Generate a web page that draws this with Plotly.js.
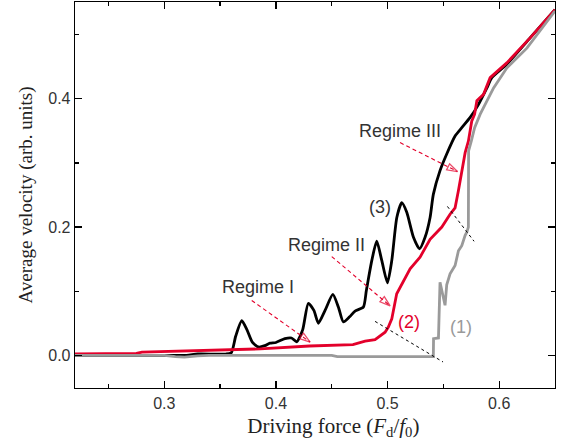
<!DOCTYPE html>
<html>
<head>
<meta charset="utf-8">
<script src="https://cdn.plot.ly/plotly-3.0.1.min.js"></script>
<style>html,body{margin:0;padding:0;background:#fff;}#chart{width:565px;height:446px;}</style>
</head>
<body>
<div id="chart"></div>
<script>
// Curve (1): gray
const grayX = [0.22, 0.30, 0.31, 0.318, 0.33, 0.34, 0.45, 0.455, 0.541, 0.5412, 0.5456, 0.547, 0.5515, 0.553, 0.556, 0.5605, 0.5635, 0.5665, 0.5695, 0.571, 0.5724, 0.5726, 0.575, 0.578, 0.583, 0.589, 0.595, 0.6068, 0.6248, 0.65];
const grayY = [0.000, 0.000, -0.002, -0.003, -0.001, 0.000, 0.000, -0.002, -0.002, 0.026, 0.027, 0.114, 0.078, 0.110, 0.127, 0.140, 0.163, 0.171, 0.187, 0.192, 0.200, 0.319, 0.334, 0.355, 0.376, 0.397, 0.417, 0.448, 0.479, 0.537];
// Curve (2): red
const redX = [0.22, 0.25, 0.275, 0.28, 0.33, 0.386, 0.43, 0.469, 0.4799, 0.4888, 0.4978, 0.5007, 0.5038, 0.5082, 0.5202, 0.5291, 0.5381, 0.5486, 0.556, 0.5605, 0.5635, 0.5665, 0.5695, 0.5724, 0.5754, 0.578, 0.580, 0.586, 0.5919, 0.6068, 0.6277, 0.65];
const redY = [0.002, 0.003, 0.003, 0.005, 0.007, 0.010, 0.0145, 0.0166, 0.022, 0.0244, 0.036, 0.044, 0.057, 0.096, 0.135, 0.153, 0.181, 0.200, 0.220, 0.230, 0.257, 0.288, 0.316, 0.334, 0.365, 0.376, 0.397, 0.407, 0.433, 0.456, 0.495, 0.539];
// Curve (3): black
const blackX = [0.22, 0.30, 0.32, 0.33, 0.355, 0.360, 0.364, 0.3694, 0.374, 0.379, 0.3843, 0.39, 0.3947, 0.40, 0.408, 0.414, 0.4186, 0.424, 0.429, 0.434, 0.438, 0.444, 0.451, 0.456, 0.4604, 0.466, 0.4709, 0.4783, 0.481, 0.4859, 0.4903, 0.4948, 0.4999, 0.5038, 0.5083, 0.5128, 0.5172, 0.5232, 0.5286, 0.5336, 0.5381, 0.541, 0.547, 0.553, 0.5605, 0.5665, 0.574, 0.5814, 0.589, 0.5934, 0.6068, 0.6277, 0.65];
const blackY = [0.000, 0.000, 0.000, 0.002, 0.002, 0.004, 0.030, 0.054, 0.040, 0.020, 0.013, 0.015, 0.019, 0.020, 0.026, 0.027, 0.021, 0.040, 0.081, 0.070, 0.050, 0.070, 0.095, 0.075, 0.052, 0.060, 0.069, 0.075, 0.101, 0.148, 0.178, 0.148, 0.113, 0.148, 0.215, 0.238, 0.223, 0.184, 0.166, 0.184, 0.215, 0.251, 0.288, 0.314, 0.342, 0.355, 0.371, 0.391, 0.417, 0.433, 0.454, 0.495, 0.539];

// Text labels
const labelText = ["Regime I", "Regime II", "Regime III", "(3)", "(2)", "(1)"];
const labelX = [0.3835, 0.4449, 0.5112, 0.4933, 0.5193, 0.5659];
const labelY = [0.1058, 0.1726, 0.350, 0.2317, 0.0513, 0.0435];
const labelColor = ["#333333", "#333333", "#333333", "#333333", "#e3002b", "#9a9a9a"];
// Dashed red arrows (tail -> tip)
const arrowX0 = [0.3783, 0.4500, 0.5112];
const arrowY0 = [0.0855, 0.1540, 0.3317];
const arrowX1 = [0.4306, 0.5023, 0.5626];
const arrowY1 = [0.0207, 0.0770, 0.2866];
// Dotted guide lines
const dotX0 = [0.4888, 0.5536];
const dotY0 = [0.0529, 0.2322];
const dotX1 = [0.5497, 0.5775];
const dotY1 = [-0.0104, 0.1778];

const xRange = [0.22, 0.65], yRange = [-0.051, 0.551];

const traces = [
  {x: blackX, y: blackY, mode: 'lines', line: {color: '#000000', width: 2.8, shape: 'spline', smoothing: 0.6}, hoverinfo: 'skip'},
  {x: redX, y: redY, mode: 'lines', line: {color: '#e3002b', width: 2.8}, hoverinfo: 'skip'},
  {x: grayX, y: grayY, mode: 'lines', line: {color: '#9a9a9a', width: 2.8}, hoverinfo: 'skip'}
];

for (let i = 0; i < arrowX0.length; i++) {
  traces.push({x: [arrowX0[i], arrowX1[i]], y: [arrowY0[i], arrowY1[i]], mode: 'lines+markers',
    line: {color: '#e3002b', width: 1.1, dash: '4px,3px'},
    marker: {symbol: ['circle', 'arrow-open'], size: [0, 11], angleref: 'previous', color: '#e3002b',
      line: {color: '#e3002b', width: 1.3}},
    hoverinfo: 'skip'});
}

const shapes = [];
for (let i = 0; i < dotX0.length; i++) {
  shapes.push({type: 'line', xref: 'x', yref: 'y', x0: dotX0[i], y0: dotY0[i], x1: dotX1[i], y1: dotY1[i],
    line: {color: '#000000', width: 1, dash: 'dot'}});
}
const annotations = [];
for (let i = 0; i < labelText.length; i++) {
  annotations.push({x: labelX[i], y: labelY[i], xref: 'x', yref: 'y', text: labelText[i], showarrow: false,
    font: {family: 'Liberation Sans, Arial, sans-serif', size: 18, color: labelColor[i]}});
}

const axisCommon = {
  showgrid: false, zeroline: false, showline: true, linecolor: '#000', linewidth: 1.3, mirror: 'ticks',
  ticks: 'inside', ticklen: 7, tickwidth: 1.3, tickcolor: '#000',
  tickfont: {family: 'Liberation Sans, Arial, sans-serif', size: 16, color: '#333333'}
};

const layout = {
  width: 565, height: 446,
  margin: {l: 75, r: 10, t: 2, b: 58},
  paper_bgcolor: '#fff', plot_bgcolor: '#fff',
  showlegend: false,
  xaxis: Object.assign({}, axisCommon, {
    range: xRange, tick0: 0, dtick: 0.1, tickformat: '.1f',
    minor: {ticks: 'inside', ticklen: 4, tickwidth: 1.3, tickcolor: '#000', dtick: 0.05, tick0: 0},
    title: {text: '&nbsp;&nbsp;&nbsp;&nbsp;&nbsp;&nbsp;&nbsp;Driving force (<i>F</i><sub>d</sub>/<i>f</i><sub>0</sub>)', standoff: 7,
      font: {family: 'Liberation Serif, Times New Roman, serif', size: 21, color: '#222'}}
  }),
  yaxis: Object.assign({}, axisCommon, {
    range: yRange, tick0: 0, dtick: 0.2, tickformat: '.1f',
    minor: {ticks: 'inside', ticklen: 4, tickwidth: 1.3, tickcolor: '#000', dtick: 0.1, tick0: 0},
    title: {text: 'Average velocity (arb. units)', standoff: 10,
      font: {family: 'Liberation Serif, Times New Roman, serif', size: 19, color: '#222'}}
  }),
  shapes: shapes,
  annotations: annotations
};

Plotly.newPlot('chart', traces, layout, {displayModeBar: false, staticPlot: true});
</script>
</body>
</html>
